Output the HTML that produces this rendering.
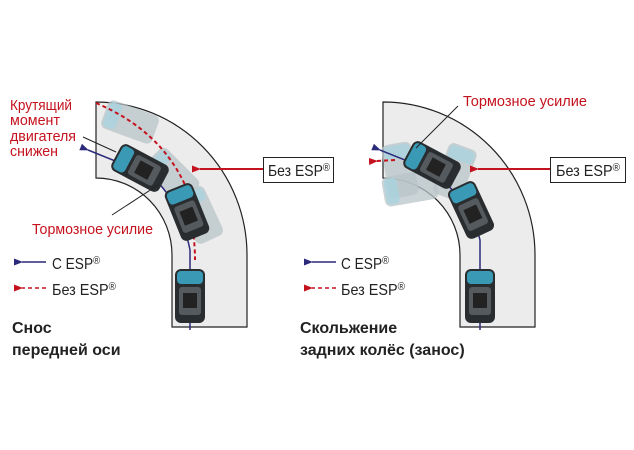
<!DOCTYPE html>
<html><head><meta charset="utf-8"><style>
html,body{margin:0;padding:0;background:#fff;}
svg{display:block}
text{font-family:"Liberation Sans",sans-serif;}
</style></head><body>
<svg width="634" height="450" viewBox="0 0 634 450" xmlns="http://www.w3.org/2000/svg">
<defs>
<g id="car">
  <rect x="-15" y="-27" width="30" height="54" rx="6" fill="#2a2d30"/>
  <rect x="-13" y="-25" width="26" height="13" rx="4" fill="#3a9ab5"/>
  <rect x="-11" y="-9" width="22" height="28" rx="3" fill="#555a5e"/>
  <rect x="-7" y="-3" width="14" height="15" fill="#222"/>
</g>
<g id="ghost">
  <rect x="-15" y="-27" width="30" height="54" rx="6" fill="#b8c4c8" opacity="0.75"/>
  <rect x="-13" y="-25" width="26" height="13" rx="4" fill="#a9d3df" opacity="0.8"/>
</g>
<marker id="ab" markerUnits="userSpaceOnUse" markerWidth="9" markerHeight="9" refX="1" refY="4.5" orient="auto"><path d="M9,1 L0,4.5 L9,8z" fill="#2c2a7a"/></marker>
<marker id="ar" markerUnits="userSpaceOnUse" markerWidth="9" markerHeight="9" refX="1" refY="4.5" orient="auto"><path d="M9,1 L0,4.5 L9,8z" fill="#c4121e"/></marker>
</defs>

<path d="M96,102 A151,153 0 0 1 247,255 L247,327 L172,327 L172,255 A76,77 0 0 0 96,178 Z" fill="#ececec" stroke="#222" stroke-width="1.2"/>
<path d="M383,102 A152,153 0 0 1 535,255 L535,327 L460,327 L460,255 A77,77 0 0 0 383,178 Z" fill="#ececec" stroke="#222" stroke-width="1.2"/>

<use href="#ghost" transform="translate(130,122) rotate(-70)"/>
<use href="#ghost" transform="translate(172,175) rotate(-45)"/>
<use href="#ghost" transform="translate(200,215) rotate(-25)"/>
<path d="M96,103 Q160,130 185,185 Q195,230 195,260" fill="none" stroke="#c4121e" stroke-width="2" stroke-dasharray="4,3"/>
<path d="M190,330 L190,250 Q180,200 150,175 L88,150" fill="none" stroke="#2c2a7a" stroke-width="1.5" marker-end="url(#ab)"/>
<use href="#car" transform="translate(140,168) rotate(-62)"/>
<use href="#car" transform="translate(187,212) rotate(-22)"/>
<use href="#car" transform="translate(190,296)"/>

<use href="#ghost" transform="translate(400,170) rotate(-10)"/>
<use href="#ghost" transform="translate(455,172) rotate(20)"/>
<use href="#ghost" transform="translate(410,188) rotate(-100)"/>
<path d="M480,330 L480,240 Q470,200 430,170 L380,150" fill="none" stroke="#2c2a7a" stroke-width="1.5" marker-end="url(#ab)"/>
<path d="M395,160 L377,161" fill="none" stroke="#c4121e" stroke-width="2" stroke-dasharray="4,3" marker-end="url(#ar)"/>
<use href="#car" transform="translate(432,165) rotate(-62)"/>
<use href="#car" transform="translate(471,210) rotate(-25)"/>
<use href="#car" transform="translate(480,296)"/>

<line x1="263" y1="169" x2="200" y2="169" stroke="#c4121e" stroke-width="2" marker-end="url(#ar)"/>
<rect x="263.5" y="157.5" width="70" height="25" fill="#fff" stroke="#222"/>
<text x="268" y="176" font-size="16" fill="#222" textLength="62" lengthAdjust="spacingAndGlyphs">Без ESP<tspan font-size="11" dy="-5">®</tspan></text>
<line x1="550" y1="169" x2="478" y2="169" stroke="#c4121e" stroke-width="2" marker-end="url(#ar)"/>
<rect x="550.5" y="157.5" width="75" height="25" fill="#fff" stroke="#222"/>
<text x="556" y="176" font-size="16" fill="#222" textLength="64" lengthAdjust="spacingAndGlyphs">Без ESP<tspan font-size="11" dy="-5">®</tspan></text>

<line x1="83" y1="137" x2="116" y2="152" stroke="#222"/>
<line x1="112" y1="215" x2="158" y2="185" stroke="#222"/>
<line x1="458" y1="106" x2="416" y2="148" stroke="#222"/>

<g font-size="15" fill="#c4121e">
<text x="10" y="110" textLength="62" lengthAdjust="spacingAndGlyphs">Крутящий</text>
<text x="10" y="125" textLength="50" lengthAdjust="spacingAndGlyphs">момент</text>
<text x="10" y="141" textLength="66" lengthAdjust="spacingAndGlyphs">двигателя</text>
<text x="10" y="156" textLength="48" lengthAdjust="spacingAndGlyphs">снижен</text>
<text x="32" y="234" textLength="121" lengthAdjust="spacingAndGlyphs">Тормозное усилие</text>
<text x="463" y="106" textLength="124" lengthAdjust="spacingAndGlyphs">Тормозное усилие</text>
</g>

<g font-size="16" fill="#222">
<line x1="46" y1="262" x2="22" y2="262" stroke="#2c2a7a" stroke-width="1.5" marker-end="url(#ab)"/>
<text x="52" y="269" textLength="48" lengthAdjust="spacingAndGlyphs">С ESP<tspan font-size="11" dy="-5">®</tspan></text>
<line x1="46" y1="288" x2="22" y2="288" stroke="#c4121e" stroke-width="1.5" stroke-dasharray="4,3" marker-end="url(#ar)"/>
<text x="52" y="295" textLength="64" lengthAdjust="spacingAndGlyphs">Без ESP<tspan font-size="11" dy="-5">®</tspan></text>
<line x1="336" y1="262" x2="312" y2="262" stroke="#2c2a7a" stroke-width="1.5" marker-end="url(#ab)"/>
<text x="341" y="269" textLength="48" lengthAdjust="spacingAndGlyphs">С ESP<tspan font-size="11" dy="-5">®</tspan></text>
<line x1="336" y1="288" x2="312" y2="288" stroke="#c4121e" stroke-width="1.5" stroke-dasharray="4,3" marker-end="url(#ar)"/>
<text x="341" y="295" textLength="64" lengthAdjust="spacingAndGlyphs">Без ESP<tspan font-size="11" dy="-5">®</tspan></text>
</g>

<g font-size="16" font-weight="bold" fill="#222">
<text x="12" y="333">Снос</text>
<text x="12" y="355">передней оси</text>
<text x="300" y="333">Скольжение</text>
<text x="300" y="355">задних колёс (занос)</text>
</g>
</svg>
</body></html>
